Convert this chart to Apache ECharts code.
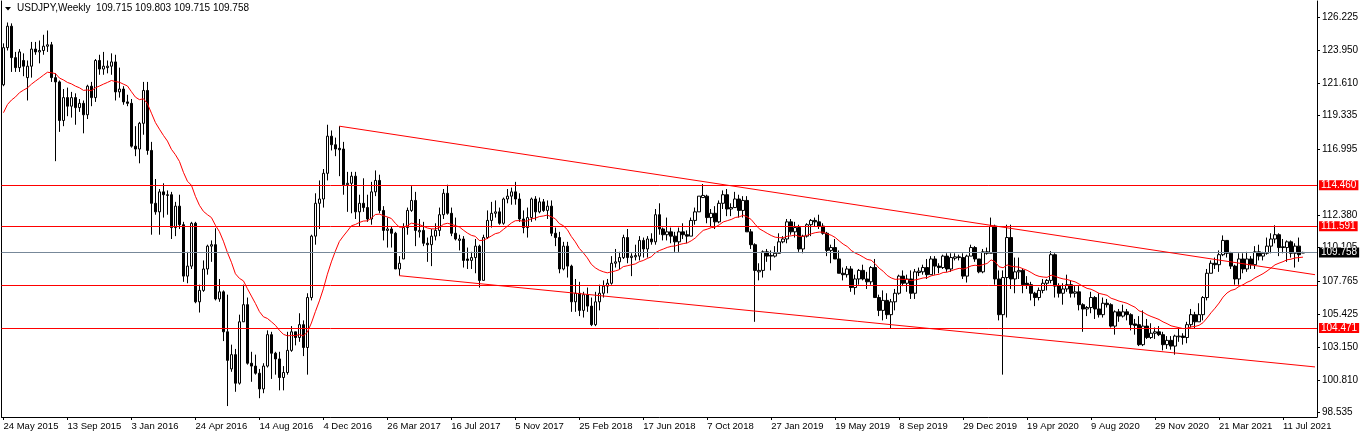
<!DOCTYPE html>
<html><head><meta charset="utf-8">
<script src="https://cdn.jsdelivr.net/npm/echarts@6/dist/echarts.min.js"></script>
<style>html,body{margin:0;padding:0;background:#fff;}#c{width:1362px;height:437px;}</style>
</head><body><div id="c"></div>
<script>
// weekly bars from 24 May 2015 (index 0) to 15 Aug 2021 (index 325)
const tickLabels = ["24 May 2015","13 Sep 2015","3 Jan 2016","24 Apr 2016","14 Aug 2016","4 Dec 2016","26 Mar 2017","16 Jul 2017","5 Nov 2017","25 Feb 2018","17 Jun 2018","7 Oct 2018","27 Jan 2019","19 May 2019","8 Sep 2019","29 Dec 2019","19 Apr 2020","9 Aug 2020","29 Nov 2020","21 Mar 2021","11 Jul 2021"];
const opens = [
121.5,124.1,125.6,123.4,122.7,123.2,122.0,122.8,124.0,123.8,
123.9,124.2,124.3,122.0,121.7,119.0,120.6,120.0,120.6,119.9,
120.2,119.4,121.4,120.6,123.2,122.6,122.7,122.8,123.1,121.0,
121.2,120.3,120.2,117.2,117.0,118.8,121.1,116.9,113.2,112.6,
114.0,113.75,113.8,111.5,113.0,111.7,108.1,108.8,111.8,106.3,
107.1,108.6,110.2,110.3,106.5,107.0,104.2,101.6,102.6,100.6,
104.9,106.1,102.0,101.8,101.3,100.2,101.8,104.0,102.7,102.3,
101.0,101.35,102.9,104.2,103.8,104.7,103.1,106.6,110.9,113.2,
113.5,115.3,117.9,117.3,117.05,117.0,114.5,114.6,115.1,112.6,
113.2,112.9,112.1,114.0,114.8,112.7,111.3,111.4,111.1,108.6,
109.3,111.5,112.7,113.4,111.2,111.3,110.4,110.3,110.9,111.3,
112.4,113.9,112.5,111.1,110.6,110.7,109.3,109.2,109.4,110.2,
107.8,110.8,112.0,112.5,112.6,111.8,113.5,113.7,114.0,113.5,
112.1,111.5,112.2,113.5,112.6,113.3,112.7,113.0,111.1,110.8,
108.6,110.2,108.8,106.3,106.9,105.7,106.8,106.0,104.7,106.3,
106.9,107.4,107.6,109.0,109.1,109.4,110.8,109.4,109.45,109.5,
110.6,110.0,110.7,110.5,112.4,111.4,111.0,111.2,110.9,110.5,
111.2,111.0,110.9,112.0,112.6,113.6,113.7,112.2,112.5,111.9,
113.2,113.8,112.8,112.9,113.5,112.7,113.4,111.2,110.3,108.4,
108.5,109.8,109.55,109.5,109.7,110.5,110.7,111.9,111.2,111.5,
110.0,110.9,111.7,112.0,111.9,111.6,111.1,109.9,110.1,109.3,
108.3,108.2,108.6,107.3,107.9,108.5,107.9,107.7,108.7,106.6,
105.7,106.4,105.4,106.3,106.9,108.1,107.6,107.9,106.9,108.35,
108.4,108.7,108.2,109.3,108.8,108.7,109.5,108.6,109.35,109.45,
109.4,108.1,109.5,110.1,109.3,108.4,109.8,109.7,111.6,107.9,
105.4,108.0,110.8,107.9,108.4,108.5,107.6,107.5,106.9,106.6,
107.1,107.6,107.8,109.6,107.4,106.9,107.2,107.5,106.9,107.0,
106.1,105.8,105.9,106.6,105.8,105.4,106.2,106.1,104.6,105.6,
105.3,105.6,105.4,104.75,104.7,103.3,104.6,103.8,104.1,104.2,
104.0,103.3,103.6,103.2,103.85,103.9,103.8,104.7,105.4,104.9,
105.4,106.6,108.3,109.0,108.9,109.6,110.6,109.7,108.8,107.9,
109.3,108.6,109.3,108.9,109.8,109.5,109.7,110.2,110.7,111.0,
110.15,110.1,110.5,109.7,110.2,109.715];
const highs = [
124.4,125.86,125.8,123.8,124.0,123.7,123.2,124.5,124.5,124.6,
125.0,125.3,124.5,122.3,121.8,121.2,121.3,121.0,120.9,120.5,
120.4,121.5,121.7,123.3,123.6,123.8,123.2,123.7,123.6,122.7,
121.4,120.8,120.5,118.6,118.9,121.7,121.7,117.5,114.9,114.2,
114.6,114.1,114.0,113.3,113.8,111.9,109.8,111.9,111.9,107.5,
109.2,110.3,110.6,111.45,107.9,107.1,106.8,103.3,103.0,105.4,
107.5,106.6,102.8,102.6,101.6,102.0,104.3,104.2,102.8,102.8,
101.8,104.2,104.6,104.2,105.5,105.0,106.9,111.0,113.9,114.8,
115.6,118.7,118.3,117.8,118.6,117.5,115.4,115.4,115.4,113.8,
114.95,113.8,114.7,115.5,115.2,113.0,112.2,111.6,111.2,109.5,
111.8,112.9,114.4,114.0,112.1,111.9,110.8,111.4,111.8,112.9,
114.2,114.5,112.9,112.2,111.0,110.9,110.1,109.8,110.7,110.3,
111.0,112.7,113.3,113.4,112.9,113.6,114.2,114.3,114.7,113.9,
112.7,112.9,113.6,113.7,113.6,113.5,113.4,113.4,111.5,111.2,
110.5,110.5,108.9,107.9,107.7,107.0,107.3,106.6,107.0,107.5,
107.8,107.9,109.5,110.0,109.8,111.0,111.4,109.7,110.3,110.9,
110.8,110.9,111.1,112.8,113.2,111.5,112.2,111.5,111.2,111.5,
111.8,111.3,112.2,112.9,113.7,114.55,113.8,112.8,113.0,113.4,
114.1,114.2,113.2,114.0,113.8,113.7,113.7,111.4,110.4,109.0,
109.9,110.0,109.9,110.2,111.1,110.9,112.1,112.1,111.9,111.7,
111.0,111.8,112.1,112.2,112.4,111.8,111.2,110.3,110.7,109.9,
108.7,108.8,108.8,108.2,108.6,108.9,108.4,108.8,109.3,106.8,
107.1,106.9,106.5,107.2,108.2,108.5,108.2,108.5,108.6,108.7,
108.9,109.3,109.5,109.5,109.0,109.6,109.7,109.7,109.7,109.6,
109.7,109.6,110.3,110.2,109.3,110.0,110.1,112.2,111.7,108.5,
108.5,111.7,111.7,109.4,109.4,108.6,108.1,107.7,107.0,107.3,
107.9,107.9,109.85,109.7,107.6,107.6,108.2,107.8,107.4,107.4,
106.2,106.0,107.0,106.7,106.9,106.6,106.5,106.2,105.7,105.8,
106.1,105.8,105.5,105.1,105.3,105.7,105.1,104.8,104.5,104.6,
104.2,103.9,103.9,104.0,104.4,104.1,104.9,105.8,105.6,106.2,
106.7,108.6,109.2,109.4,109.9,110.95,110.6,109.8,108.9,109.7,
109.7,109.8,109.5,110.2,110.3,109.8,110.8,111.1,111.66,111.1,
110.7,110.6,110.6,110.4,110.8,109.803];
const lows = [
121.4,123.9,122.4,122.4,122.4,122.1,120.4,122.0,123.6,123.0,
123.6,123.8,121.7,116.15,118.2,118.6,119.3,119.2,118.7,119.6,
118.1,119.1,120.0,120.3,122.2,122.2,122.3,122.2,120.4,120.6,
120.1,120.0,117.1,116.5,116.0,118.0,116.6,111.0,112.4,111.0,
112.2,112.4,110.7,110.9,111.4,107.7,107.6,108.6,106.2,105.55,
107.0,108.2,109.1,106.4,106.3,103.55,99.0,101.4,100.0,100.5,
104.9,101.9,100.7,101.2,99.55,99.9,101.7,100.9,101.2,100.1,
100.1,101.2,102.8,103.25,103.5,102.5,101.2,106.4,110.3,111.4,
112.9,114.8,116.9,116.5,115.1,113.8,112.6,112.5,112.1,111.6,
112.6,111.9,111.7,113.7,112.5,110.6,110.1,110.1,108.6,108.13,
109.3,111.0,112.6,110.2,110.8,110.2,109.1,108.8,110.6,110.9,
112.1,112.4,110.9,110.6,109.9,108.7,108.6,108.6,108.3,107.3,
107.8,110.7,111.5,112.2,111.7,111.7,113.2,113.1,113.1,111.9,
111.1,110.8,111.9,112.0,112.5,112.6,112.1,110.9,110.2,108.3,
108.5,108.0,105.6,105.6,105.3,105.2,105.6,104.6,104.6,105.7,
106.6,106.9,107.5,108.7,108.6,109.3,109.0,108.1,109.2,109.2,
109.4,109.4,110.3,110.3,111.0,110.6,110.6,110.4,109.8,109.8,
110.7,110.4,110.9,111.7,112.6,113.6,111.8,111.6,111.4,111.8,
112.8,112.3,112.3,112.9,112.2,112.2,111.2,110.0,104.9,107.8,
108.0,109.1,108.5,109.4,109.7,110.4,110.4,111.0,110.8,109.8,
109.7,110.8,110.9,111.6,111.4,111.0,109.5,109.0,109.3,108.3,
107.8,108.0,107.0,106.8,107.5,107.8,107.2,107.5,106.6,105.3,
105.0,105.1,104.4,105.7,106.8,107.4,107.0,106.5,106.5,108.1,
108.2,107.9,108.2,108.2,108.3,108.6,108.4,108.4,109.2,109.2,
107.9,107.65,109.5,109.1,108.3,108.3,109.6,109.7,107.5,105.0,
101.2,105.2,107.2,106.9,107.9,106.9,107.2,106.4,106.0,106.4,
106.9,107.1,107.6,106.6,106.6,106.1,107.0,106.6,106.6,105.7,
104.2,105.3,105.5,105.1,105.2,105.2,105.9,104.5,104.0,104.9,
105.2,105.0,104.3,104.0,103.2,103.2,103.7,103.7,103.7,103.9,
102.9,103.0,102.95,102.6,103.5,103.3,103.4,104.5,104.4,104.9,
105.0,106.4,108.3,108.6,108.4,109.5,109.4,108.6,107.5,107.5,
108.3,108.4,108.6,108.6,109.2,109.2,109.6,109.7,110.4,109.5,
109.7,109.1,109.4,108.7,109.1,109.715];
const closes = [
124.1,125.6,123.4,122.7,123.8,122.8,122.8,124.0,123.8,123.9,
124.2,124.3,122.0,121.7,119.0,120.6,120.0,120.6,119.9,120.2,
119.4,121.4,120.6,123.2,122.6,122.8,122.8,123.1,121.0,121.2,
120.3,120.2,117.2,117.0,118.8,121.1,116.9,113.2,112.6,114.0,
113.8,113.8,111.5,113.0,111.7,108.1,108.8,111.8,106.3,107.1,
108.6,110.2,110.3,106.5,107.0,104.2,102.2,102.6,100.6,104.9,
106.1,102.0,101.8,101.3,100.2,101.8,104.0,102.7,102.3,101.0,
101.35,102.9,104.2,103.8,104.7,103.1,106.6,110.9,113.2,113.5,
115.3,117.9,117.3,117.0,116.95,114.5,114.6,115.1,112.6,113.2,
112.9,112.1,114.0,114.8,112.7,111.3,111.4,111.1,108.6,109.0,
111.5,112.7,113.4,111.3,111.3,110.4,110.3,110.9,111.3,112.4,
113.9,112.5,111.1,110.7,110.7,109.2,109.2,109.4,110.2,107.8,
110.8,112.0,112.5,112.6,111.8,113.5,113.7,114.0,113.5,112.1,
111.5,112.2,113.5,112.6,113.3,112.7,113.0,111.1,110.8,108.6,
110.2,108.8,106.3,106.9,105.7,106.8,106.0,104.7,106.3,106.9,
107.4,107.6,109.0,109.1,109.4,110.8,109.4,109.5,109.55,110.6,
110.0,110.7,110.5,112.4,111.4,111.0,111.2,110.9,110.5,111.2,
111.0,110.9,112.0,112.6,113.7,113.75,112.2,112.5,111.9,113.2,
113.8,112.8,112.9,113.5,112.7,113.4,111.2,110.3,108.5,108.5,
109.8,109.5,109.5,109.7,110.5,110.7,111.9,111.2,111.5,110.0,
110.9,111.7,112.0,111.9,111.6,111.1,109.9,110.1,109.3,108.3,
108.2,108.6,107.3,107.9,108.5,107.9,107.7,108.7,106.6,105.7,
106.4,105.4,106.3,106.9,108.1,107.6,107.9,106.9,108.4,108.45,
108.7,108.2,109.3,108.8,108.7,109.5,108.6,109.4,109.45,109.4,
108.1,109.5,110.1,109.3,108.4,109.8,109.7,111.6,107.9,105.4,
108.0,110.8,107.9,108.4,108.5,107.5,107.5,106.9,106.6,107.1,
107.6,107.8,109.6,107.4,106.9,107.2,107.5,106.9,107.0,106.1,
105.8,105.9,106.6,105.8,105.4,106.2,106.1,104.6,105.6,105.3,
105.6,105.4,104.7,104.65,103.3,104.6,103.8,104.1,104.2,104.0,
103.3,103.6,103.2,103.9,103.9,103.8,104.7,105.4,104.9,105.4,
106.6,108.3,109.0,108.9,109.6,110.6,109.7,108.8,107.9,109.3,
108.6,109.3,108.9,109.8,109.5,109.7,110.2,110.7,111.0,110.1,
110.1,110.5,109.7,110.2,109.6,109.758];
// weekly closes before 24 May 2015 (Oct 2014 - May 2015), used only to warm up the average
const priorCloses = [109.8,107.7,106.9,108.1,112.3,114.6,116.3,117.8,118.6,121.4,118.8,119.5,120.4,120.5,118.5,
117.6,117.7,117.5,119.1,118.7,119.0,119.6,120.8,121.4,120.0,119.1,119.0,120.2,118.9,118.9,120.2,119.7,119.4,121.5];
const maPeriod = 20;
const levelLines = [114.460, 111.591, 104.471];
const plainLevels = [107.48];
const bidPrice = 109.758;
const upperTrend = [[84, 118.6], [328, 108.2]];
const lowerTrend = [[99, 108.13], [328, 101.74]];
const yTickValues = [126.225,123.950,121.610,119.335,116.995,112.380,110.105,107.765,105.425,103.150,100.810,98.535];
const titleText = "USDJPY,Weekly  109.715 109.803 109.715 109.758";
const slotCount = 329;

const FONT = 'Liberation Sans, Arial, sans-serif';
const cats = Array.from({length: slotCount}, (_, i) => i);
const candles = opens.map((o, i) => [o, closes[i], lows[i], highs[i]]);
// exponential moving average of the closes (indicator line)
const ema = [];
{ const a = 2 / (maPeriod + 1); let e = priorCloses[0];
  priorCloses.slice(1).forEach(c => { e = e + a * (c - e); });
  closes.forEach(c => { e = e + a * (c - e); ema.push(+e.toFixed(4)); }); }

const YMIN = 98.234, YMAX = 127.366;
const tickShow = i => i % 16 === 0 && i / 16 < tickLabels.length;
const boxLabel = (bg, txt) => ({show: true, position: 'end', distance: 2, formatter: txt,
  backgroundColor: bg, color: '#fff', fontSize: 10, fontFamily: FONT, padding: [1, 2, 0, 2], lineHeight: 9});

const chart = echarts.init(document.getElementById('c'), null, {renderer: 'canvas'});
chart.setOption({
  animation: false,
  backgroundColor: '#ffffff',
  grid: {left: 1.5, right: 45, top: 1, bottom: 20, show: false},
  graphic: [
    {type: 'polygon', shape: {points: [[5, 7], [11, 7], [8, 10.5]]}, style: {fill: '#000'}},
    {type: 'text', left: 17, top: 3, style: {text: titleText, fill: '#000', font: '10px ' + FONT}}
  ],
  xAxis: {type: 'category', data: cats, boundaryGap: true,
    axisLine: {show: true, lineStyle: {color: '#000', width: 1}},
    axisTick: {show: true, alignWithLabel: true, interval: tickShow, length: 3, lineStyle: {color: '#000'}},
    axisLabel: {show: true, interval: tickShow, formatter: (v, i) => tickLabels[i / 16], align: 'left',
      margin: 4, color: '#000', fontSize: 9.5, fontFamily: FONT},
    splitLine: {show: false}},
  yAxis: [
    {type: 'value', position: 'right', min: YMIN, max: YMAX,
      axisLine: {show: true, lineStyle: {color: '#000'}},
      axisTick: {show: true, length: 3, customValues: yTickValues, lineStyle: {color: '#000'}},
      axisLabel: {show: true, customValues: yTickValues, formatter: v => v.toFixed(3), margin: 5,
        color: '#000', fontSize: 10, fontFamily: FONT},
      splitLine: {show: false}},
    {type: 'value', position: 'left', min: YMIN, max: YMAX,
      axisLine: {show: true, lineStyle: {color: '#000'}}, axisTick: {show: false}, axisLabel: {show: false},
      splitLine: {show: false}}
  ],
  series: [
    {type: 'candlestick', data: candles, barWidth: 3, z: 3,
      itemStyle: {color: '#ffffff', color0: '#000000', borderColor: '#000000', borderColor0: '#000000', borderColorDoji: '#000000', borderWidth: 1},
      emphasis: {disabled: true}},
    {type: 'line', data: ema, symbol: 'none', z: 4, lineStyle: {color: '#ff0000', width: 1}, emphasis: {disabled: true},
      markLine: {symbol: ['none', 'none'], silent: true, animation: false, z: 5,
        lineStyle: {color: '#ff0000', width: 1, type: 'solid'}, label: {show: false}, emphasis: {disabled: true},
        data: [
          ...levelLines.map(v => ({yAxis: v, label: boxLabel('#ff0000', v.toFixed(3))})),
          ...plainLevels.map(v => ({yAxis: v})),
          {yAxis: bidPrice, lineStyle: {color: '#778899', width: 1, type: 'solid'}, label: boxLabel('#000000', bidPrice.toFixed(3))},
          [{coord: upperTrend[0]}, {coord: upperTrend[1]}],
          [{coord: lowerTrend[0]}, {coord: lowerTrend[1]}]
        ]}}
  ]
});
</script></body></html>
